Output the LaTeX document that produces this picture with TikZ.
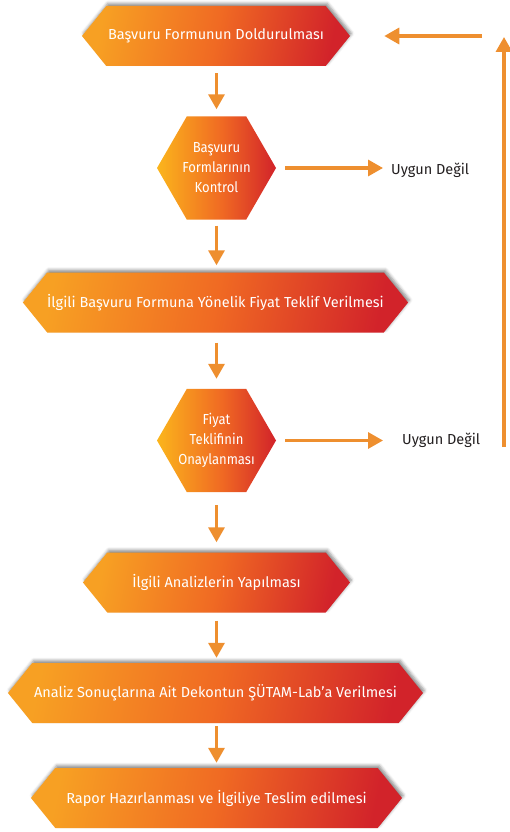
\documentclass[tikz,border=0pt]{standalone}
\usepackage{fontspec}
\setmainfont{Fira Sans}
\newfontfamily\hexfont{Fira Sans}[FakeStretch=0.9]
\usetikzlibrary{shapes.symbols,shapes.geometric,arrows.meta,shadows.blur}
\definecolor{arrowc}{HTML}{EE8F2F}
\definecolor{cA}{HTML}{F7A023}
\definecolor{cB}{HTML}{F06A23}
\definecolor{cC}{HTML}{D2232A}
\definecolor{hA}{HTML}{FBB51C}
\definecolor{txtdark}{HTML}{231F20}
\pgfdeclarehorizontalshading{boxshade}{100bp}{color(0bp)=(cA); color(25bp)=(cA); color(50bp)=(cB); color(75bp)=(cC); color(100bp)=(cC)}
\pgfdeclarehorizontalshading{hexshade}{100bp}{color(0bp)=(hA); color(25bp)=(hA); color(52bp)=(cB); color(75bp)=(cC); color(100bp)=(cC)}
\begin{document}
\begin{tikzpicture}[x=1pt,y=-1pt,
  box/.style={shape=signal, signal to=east and west, signal pointer angle=102,
    minimum height=60pt, inner sep=0pt, text=white,
    font=\fontsize{14.5}{17}\selectfont, shade, shading=boxshade, shading angle=-12,
    blur shadow={shadow xshift=1.5pt, shadow yshift=2.5pt, shadow blur radius=3pt, shadow opacity=45}},
  hexa/.style={shape=regular polygon, regular polygon sides=6, minimum size=119pt,
    inner sep=-20pt, text=white, align=center,
    font=\hexfont\fontsize{14.5}{20}\selectfont, shade, shading=hexshade},
  flow/.style={draw=arrowc, line width=3.3pt, -{Triangle[width=16pt,length=15pt]}},
  note/.style={text=txtdark, font=\fontsize{14.5}{17}\selectfont, inner sep=0pt, anchor=west}
]
\useasboundingbox (0,0) rectangle (509,832);

\node[box, minimum width=268pt] (b1) at (216,36) {Başvuru Formunun Doldurulması};
\node[hexa] (h1) at (216.5,168) {Başvuru\\Formlarının\\Kontrol};
\node[box, minimum width=371pt] (b2) at (215.5,302.5) {İlgili Başvuru Formuna Yönelik Fiyat Teklif Verilmesi};
\node[hexa] (h2) at (216.5,440.5) {Fiyat\\Teklifinin\\Onaylanması};
\node[box, minimum width=267pt] (b3) at (216.5,582.5) {İlgili Analizlerin Yapılması};
\node[box, minimum width=415pt] (b4) at (215.5,693) {Analiz Sonuçlarına Ait Dekontun ŞÜTAM-Lab’a Verilmesi};
\node[box, minimum width=371pt] (b5) at (216.5,798) {Rapor Hazırlanması ve İlgiliye Teslim edilmesi};

\node[note] (n1) at (391,170) {Uygun Değil};
\node[note] (n2) at (402,440) {Uygun Değil};

\coordinate (fbot) at (504,447);
\coordinate (ftop) at (504,37);
\coordinate (rstart) at (482,36);

\draw[flow, shorten <=7pt, shorten >=7pt] (b1.south -| h1.north) -- (h1.north);
\draw[flow, shorten <=6pt, shorten >=7pt] (h1.south) -- (h1.south |- b2.north);
\draw[flow, shorten <=10pt, shorten >=10pt] (h2.north |- b2.south) -- (h2.north);
\draw[flow, shorten <=13pt, shorten >=10pt] (h2.south) -- (h2.south |- b3.north);
\draw[flow, shorten <=8pt, shorten >=5pt] (b3.south) -- (b3.south |- b4.north);
\draw[flow, shorten <=3pt, shorten >=5pt] (b3.south |- b4.south) -- (b3.south |- b5.north);

\draw[flow, shorten <=9pt, shorten >=8pt] (h1.east) -- (h1.east -| n1.west);
\draw[flow, shorten <=9pt, shorten >=19pt] (h2.east) -- (h2.east -| n2.west);

\draw[flow] (fbot) -- (ftop);
\draw[flow, shorten >=34pt] (rstart) -- (rstart -| b1.east);
\end{tikzpicture}
\end{document}
